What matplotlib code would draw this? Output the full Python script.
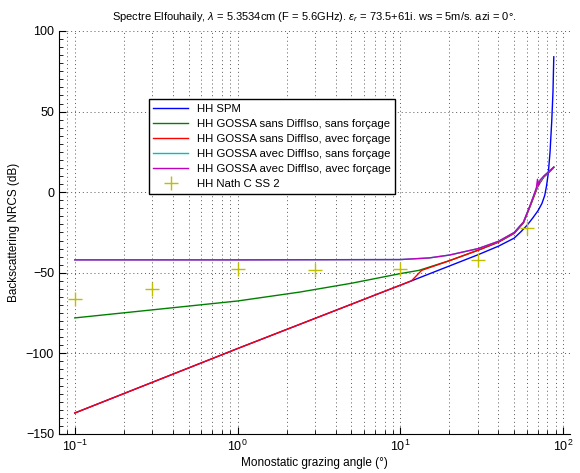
import numpy as np
import matplotlib
matplotlib.use("Agg")
import matplotlib.pyplot as plt
from matplotlib.ticker import MultipleLocator, LogLocator

plt.rcParams['font.family'] = ['Liberation Sans', 'DejaVu Sans']
plt.rcParams['mathtext.fontset'] = 'custom'
plt.rcParams['mathtext.rm'] = 'Liberation Sans'
plt.rcParams['mathtext.it'] = 'Liberation Sans:italic'

# --- valeurs ---
spm_ang = [0.1, 1, 11.7, 30, 40, 50, 55, 60, 65, 70, 74, 77, 79, 81, 83, 85, 86.5, 87.5]
spm_db = [-137, -97, -55, -38.8, -33.5, -28.5, -24.5, -20.5, -16, -11.5, -7, -2, 4, 12, 25, 44, 62, 84]

gossa_ang = [0.1, 0.3, 1, 2.4, 5, 10, 13, 20, 30, 40, 50, 57, 63, 67, 70, 76, 82, 87.5]
gossa_db = [-78, -73, -67.5, -62, -56.5, -50.5, -48.5, -42.5, -36, -31, -25.5, -19, -8, -1, 4, 9.5, 12.5, 15.5]

forc_ang = [0.1, 1, 11.7, 13.5, 20, 30, 40, 50, 57, 63, 67, 70, 76, 82, 87.5]
forc_db = [-137, -97, -55, -48.5, -42.5, -36, -31, -25.5, -19, -8, -1, 4, 9.5, 12.5, 15.5]

diso_ang = [0.1, 1, 10, 15, 20, 30, 40, 50, 57, 63, 67, 70, 76, 82, 87.5]
diso_db = [-42, -42, -41.8, -40.8, -39, -35, -30.5, -25, -18.5, -7.5, 0, 4.5, 10, 13, 15.5]

diso_forc_ang = [0.1, 1, 10, 15, 20, 30, 40, 50, 57, 63, 67, 68.5, 69.5, 70.5, 72, 76, 82, 87.5]
diso_forc_db = [-42, -42, -41.8, -40.8, -39, -35, -30.5, -25, -18.5, -7.5, 0, 3, 8, 4, 7.5, 10, 13, 15.5]

nath_ang = [0.1, 0.3, 1, 3, 10, 30, 60]
nath_db = [-66, -60, -47.5, -48, -47.5, -42, -22]

# ordre de couleurs MATLAB (ancien)
c_b = (0, 0, 1)
c_g = (0, 0.5, 0)
c_r = (1, 0, 0)
c_c = (0, 0.75, 0.75)
c_m = (0.75, 0, 0.75)
c_y = (0.75, 0.75, 0)

fig = plt.figure(figsize=(5.8, 4.73), dpi=100)
ax = fig.add_axes([0.1017, 0.0825, 0.881, 0.852])

lw = 1.0
ax.semilogx(spm_ang, spm_db, color=c_b, lw=lw, label='HH SPM')
ax.semilogx(gossa_ang, gossa_db, color=c_g, lw=lw, label='HH GOSSA sans DiffIso, sans forçage')
ax.semilogx(forc_ang, forc_db, color=c_r, lw=lw, label='HH GOSSA sans DiffIso, avec forçage')
ax.semilogx(diso_ang, diso_db, color=c_c, lw=lw, label='HH GOSSA avec DiffIso, sans forçage')
ax.semilogx(diso_forc_ang, diso_forc_db, color=c_m, lw=lw, label='HH GOSSA avec DiffIso, avec forçage')
ax.semilogx(nath_ang, nath_db, '+', color=c_y, ms=10, mew=1.0, label='HH Nath C SS 2')

ax.set_xlim(0.08, 110)
ax.set_ylim(-150, 100)
ax.yaxis.set_major_locator(MultipleLocator(50))
ax.yaxis.set_minor_locator(MultipleLocator(5))
ax.xaxis.set_major_locator(LogLocator(base=10))
ax.xaxis.set_minor_locator(LogLocator(base=10, subs=np.arange(2, 10)))

grid_style = dict(linestyle=(0, (1, 3)), color='0.35', lw=0.7)
ax.grid(True, which='both', axis='x', **grid_style)
ax.grid(True, which='major', axis='y', **grid_style)

ax.spines['top'].set_visible(False)
ax.spines['right'].set_visible(False)
ax.tick_params(which='both', direction='in', labelsize=9)
ax.tick_params(which='major', length=5)
ax.tick_params(which='minor', length=3)

ax.set_xlabel('Monostatic grazing angle (°)', fontsize=8.5, labelpad=2)
ax.set_ylabel('Backscattering NRCS (dB)', fontsize=8.5)
ax.set_title(r'Spectre Elfouhaily, $\lambda$ = 5.3534cm (F = 5.6GHz). $\epsilon_r$ = 73.5+61i. ws = 5m/s. azi = 0°.',
             fontsize=8, pad=8)

leg = ax.legend(loc='upper left', bbox_to_anchor=(0.176, 0.831), fontsize=8.2,
                frameon=True, fancybox=False, framealpha=1, edgecolor='k',
                handlelength=3.0, labelspacing=0.45, borderpad=0.4, borderaxespad=0)
leg.get_frame().set_linewidth(1.0)

fig.savefig('out.png', dpi=100)
